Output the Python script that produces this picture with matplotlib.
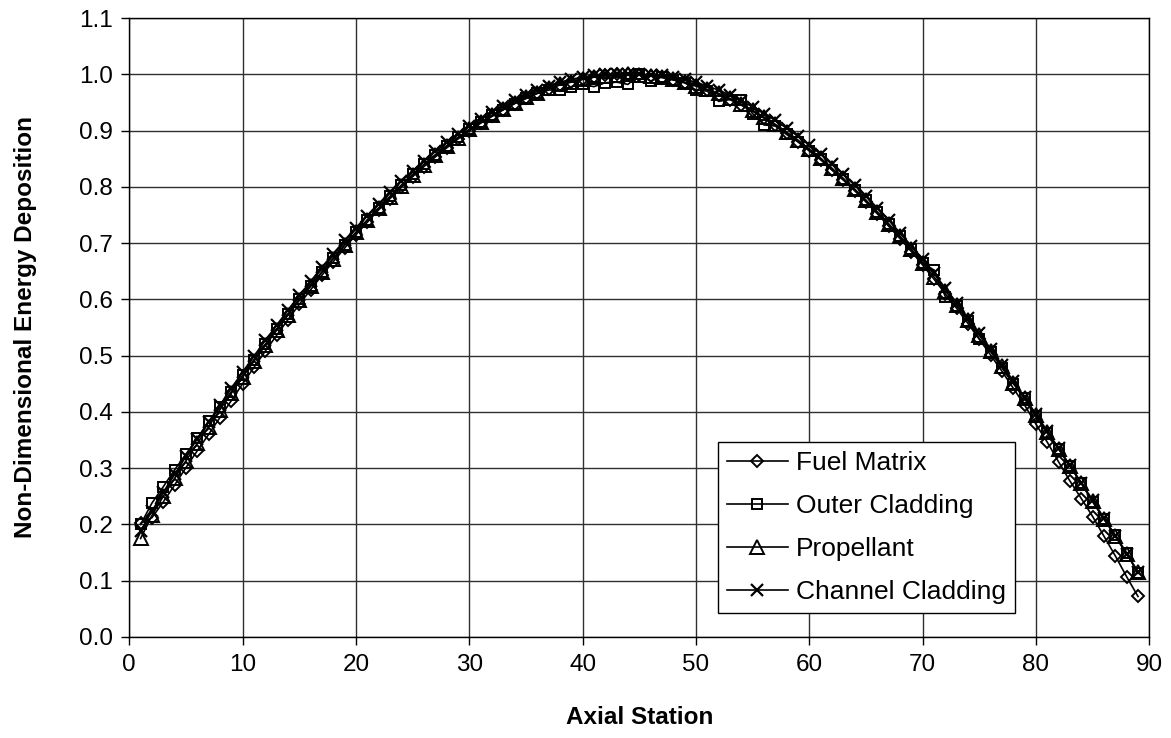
import matplotlib
matplotlib.use("Agg")
import matplotlib.pyplot as plt

plt.rcParams['font.family'] = ['Liberation Sans', 'DejaVu Sans']

stations = list(range(1, 90))

fuel_matrix = [
    0.202, 0.212, 0.240, 0.270, 0.301, 0.331, 0.360, 0.390, 0.420, 0.450,
    0.479, 0.508, 0.536, 0.564, 0.591, 0.617, 0.643, 0.667, 0.691, 0.715,
    0.737, 0.759, 0.779, 0.799, 0.818, 0.836, 0.853, 0.869, 0.885, 0.899,
    0.913, 0.925, 0.937, 0.948, 0.957, 0.966, 0.974, 0.981, 0.986, 0.991,
    0.995, 0.998, 1.000, 1.000, 0.999, 0.997, 0.994, 0.990, 0.985, 0.979,
    0.972, 0.964, 0.955, 0.945, 0.934, 0.922, 0.909, 0.895, 0.880, 0.864,
    0.848, 0.830, 0.812, 0.793, 0.773, 0.752, 0.730, 0.708, 0.685, 0.661,
    0.636, 0.610, 0.584, 0.557, 0.529, 0.501, 0.472, 0.442, 0.412, 0.378,
    0.346, 0.311, 0.277, 0.246, 0.214, 0.179, 0.144, 0.107, 0.072,
]

outer_cladding = [
    0.200, 0.238, 0.267, 0.297, 0.325, 0.353, 0.383, 0.408, 0.436, 0.465,
    0.493, 0.520, 0.547, 0.574, 0.600, 0.624, 0.649, 0.673, 0.697, 0.719,
    0.741, 0.762, 0.783, 0.803, 0.822, 0.840, 0.857, 0.873, 0.888, 0.902,
    0.915, 0.927, 0.937, 0.948, 0.957, 0.966, 0.972, 0.972, 0.978, 0.982,
    0.978, 0.985, 0.986, 0.982, 1.000, 0.988, 0.996, 0.990, 0.985, 0.972,
    0.970, 0.952, 0.955, 0.955, 0.930, 0.910, 0.908, 0.893, 0.880, 0.864,
    0.850, 0.830, 0.813, 0.795, 0.776, 0.755, 0.734, 0.712, 0.689, 0.665,
    0.652, 0.605, 0.588, 0.562, 0.530, 0.507, 0.478, 0.450, 0.424, 0.392,
    0.362, 0.334, 0.303, 0.273, 0.240, 0.209, 0.181, 0.149, 0.113,
]

propellant = [
    0.175, 0.216, 0.250, 0.282, 0.313, 0.344, 0.374, 0.404, 0.433, 0.462,
    0.490, 0.518, 0.545, 0.572, 0.598, 0.623, 0.648, 0.672, 0.696, 0.719,
    0.741, 0.762, 0.782, 0.802, 0.821, 0.839, 0.856, 0.872, 0.887, 0.902,
    0.915, 0.927, 0.939, 0.949, 0.959, 0.967, 0.975, 0.982, 0.987, 0.991,
    0.995, 0.997, 0.999, 1.000, 0.999, 0.997, 0.995, 0.991, 0.986, 0.980,
    0.973, 0.966, 0.957, 0.947, 0.936, 0.924, 0.911, 0.897, 0.883, 0.867,
    0.851, 0.833, 0.815, 0.796, 0.776, 0.755, 0.734, 0.712, 0.689, 0.665,
    0.640, 0.615, 0.590, 0.563, 0.536, 0.509, 0.481, 0.452, 0.424, 0.394,
    0.364, 0.334, 0.304, 0.273, 0.242, 0.210, 0.179, 0.147, 0.116,
]

channel_cladding = [
    0.188, 0.224, 0.257, 0.289, 0.321, 0.352, 0.382, 0.412, 0.442, 0.471,
    0.499, 0.527, 0.554, 0.581, 0.607, 0.632, 0.657, 0.681, 0.705, 0.727,
    0.749, 0.770, 0.790, 0.810, 0.828, 0.846, 0.863, 0.879, 0.894, 0.908,
    0.921, 0.933, 0.944, 0.955, 0.964, 0.972, 0.980, 0.986, 0.991, 0.995,
    0.998, 1.000, 1.000, 1.000, 1.000, 0.999, 0.998, 0.995, 0.991, 0.986,
    0.979, 0.972, 0.963, 0.953, 0.942, 0.930, 0.918, 0.904, 0.890, 0.874,
    0.858, 0.840, 0.822, 0.803, 0.783, 0.762, 0.741, 0.718, 0.695, 0.671,
    0.646, 0.620, 0.594, 0.567, 0.540, 0.512, 0.484, 0.455, 0.426, 0.396,
    0.366, 0.335, 0.305, 0.274, 0.243, 0.211, 0.180, 0.148, 0.116,
]

series_names = ["Fuel Matrix", "Outer Cladding", "Propellant", "Channel Cladding"]
x_ticks = [0, 10, 20, 30, 40, 50, 60, 70, 80, 90]
y_ticks = [0.0, 0.1, 0.2, 0.3, 0.4, 0.5, 0.6, 0.7, 0.8, 0.9, 1.0, 1.1]

fig = plt.figure(figsize=(11.71, 7.38), dpi=100)
ax = fig.add_axes([0.1104, 0.1369, 0.8711, 0.8387])

styles = [
    dict(marker='D', markersize=5.8, markeredgewidth=1.4),
    dict(marker='s', markersize=7.2, markeredgewidth=1.4),
    dict(marker='^', markersize=9.5, markeredgewidth=1.4),
    dict(marker='x', markersize=9, markeredgewidth=1.6),
]
for data, name, st in zip([fuel_matrix, outer_cladding, propellant, channel_cladding],
                          series_names, styles):
    ax.plot(stations, data, color='black', linewidth=1.2,
            markerfacecolor='none', markeredgecolor='black',
            label=name, **st)

ax.set_xlim(0, 90)
ax.set_ylim(0, 1.1)
ax.set_xticks(x_ticks)
ax.set_yticks(y_ticks)
ax.set_xticklabels([str(t) for t in x_ticks])
ax.set_yticklabels([f"{t:.1f}" for t in y_ticks])
ax.tick_params(axis='both', labelsize=17.5, direction='out', length=6,
               width=1, color='black', pad=6)
ax.grid(True, color='#303030', linewidth=1.0)
ax.set_axisbelow(True)
for s in ax.spines.values():
    s.set_color('black')
    s.set_linewidth(1.0)

ax.set_xlabel("Axial Station", fontsize=17.5, fontweight='bold', labelpad=22)
ax.set_ylabel("Non-Dimensional Energy Deposition", fontsize=17.5,
              fontweight='bold', labelpad=30)

leg = ax.legend(loc='upper left', bbox_to_anchor=(0.577, 0.315),
                borderaxespad=0, fontsize=19, frameon=True, fancybox=False,
                edgecolor='black', framealpha=1, handlelength=2.3,
                labelspacing=0.72, handletextpad=0.3, borderpad=0.35)
leg.get_frame().set_linewidth(1.0)

fig.savefig("out.png", dpi=100)
